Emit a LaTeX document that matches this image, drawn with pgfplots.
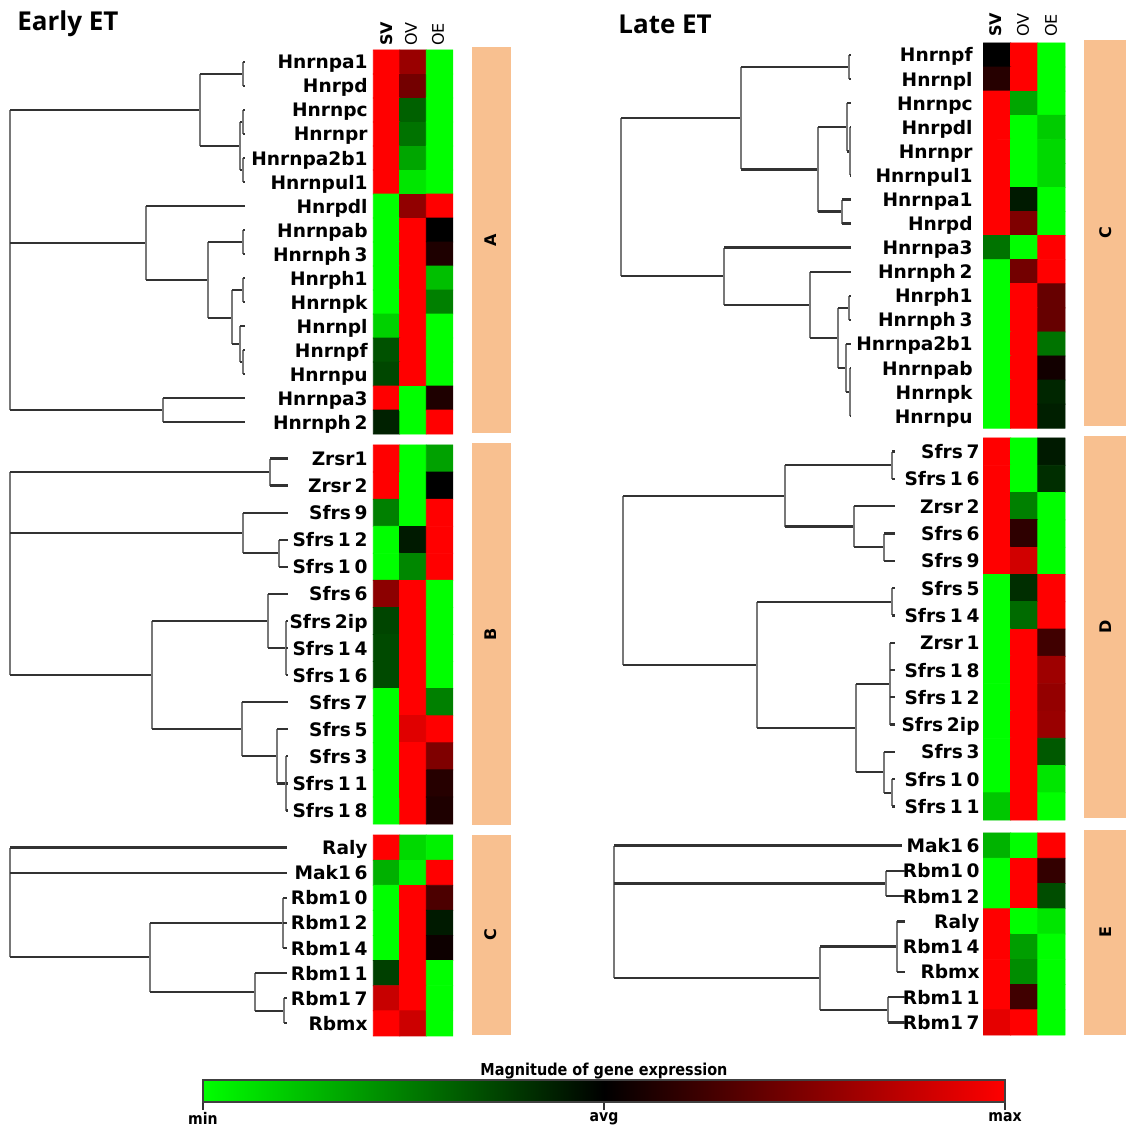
\documentclass[border=0pt]{standalone}
\usepackage{pgfplots}
\pgfplotsset{compat=1.18}
\usepackage{fontspec}
\setmainfont{DejaVu Sans}
\newfontfamily\dvc[FakeStretch=0.88]{DejaVu Sans}
\newfontfamily\osans{Open Sans}
\definecolor{peach}{RGB}{248,192,144}
\definecolor{hl}{RGB}{50,50,50}
\definecolor{vl}{RGB}{120,120,120}
\newcommand\labfont{\bfseries\fontsize{9.3}{10}\selectfont}
\newcommand\g{\kern0.2em}
\newcommand\hseg[3]{\addplot[hl,line width=1.15pt] coordinates {(#1,#3) (#2,#3)};}
\newcommand\vseg[3]{\addplot[vl,line width=0.55pt] coordinates {(#1,#2) (#1,#3)};}
\newcommand\lab[3]{\node[anchor=base east,inner sep=0pt,yshift=-3.5pt,font=\labfont] at (axis cs:#1,#2) {#3};}
\newcommand\grp[3]{\node[rotate=90,inner sep=0pt,font=\bfseries\fontsize{8}{9}\selectfont] at (axis cs:#1,#2) {#3};}
\begin{document}
\begin{tikzpicture}
\begin{axis}[
  x=0.5pt, y=0.5pt, xmin=0, xmax=1126, ymin=0, ymax=1129, y dir=reverse,
  hide axis, clip=false,
  colormap={rg}{rgb255=(0,255,0) rgb255=(0,0,0) rgb255=(255,0,0)},
  point meta min=-1, point meta max=1,
  colorbar horizontal,
  colorbar style={
    at={(0.18028,0.02391)}, anchor=south west,
    scale only axis, width=401pt, height=11pt,
    xtick={-1,0,1}, xticklabels={min,avg,max},
    xtick align=outside, major tick length=4pt,
    xtick pos=left, xticklabel pos=left,
    major tick style={draw=black!80, line width=0.9pt},
    axis line style={black!75, line width=0.8pt},
    xticklabel style={font=\dvc\bfseries\fontsize{8}{9}\selectfont, inner sep=0pt, yshift=-1pt},
    title={Magnitude of gene expression},
    title style={font=\dvc\bfseries\fontsize{8.2}{9}\selectfont, inner sep=0pt, at={(0.5,1)}, anchor=south, yshift=-5.5pt},
  },
]
\path (axis cs:0,0) rectangle (axis cs:1126,1129);
% ---------------- heatmaps: Early ET ----------------
\addplot[matrix plot*, mesh/cols=3, point meta=explicit] table[meta=c] {
x y c
386.5 62 1
413 62 0.6
439.5 62 -1
386.5 86 1
413 86 0.45
439.5 86 -1
386.5 110 1
413 110 -0.38
439.5 110 -1
386.5 134 1
413 134 -0.45
439.5 134 -1
386.5 158 1
413 158 -0.65
439.5 158 -1
386.5 182 1
413 182 -0.9
439.5 182 -1
386.5 206 -1
413 206 0.57
439.5 206 1
386.5 230 -1
413 230 1
439.5 230 0
386.5 254 -1
413 254 1
439.5 254 0.12
386.5 278 -1
413 278 1
439.5 278 -0.75
386.5 302 -1
413 302 1
439.5 302 -0.5
386.5 326 -0.82
413 326 1
439.5 326 -1
386.5 350 -0.32
413 350 1
439.5 350 -1
386.5 374 -0.28
413 374 1
439.5 374 -1
386.5 398 1
413 398 -1
439.5 398 0.12
386.5 422 -0.13
413 422 -1
439.5 422 1
};
\addplot[matrix plot*, mesh/cols=3, point meta=explicit] table[meta=c] {
x y c
386.5 458.5 1
413 458.5 -1
439.5 458.5 -0.63
386.5 485.6 1
413 485.6 -1
439.5 485.6 0
386.5 512.7 -0.5
413 512.7 -1
439.5 512.7 1
386.5 539.8 -1
413 539.8 -0.1
439.5 539.8 1
386.5 566.8 -1
413 566.8 -0.53
439.5 566.8 1
386.5 593.9 0.55
413 593.9 1
439.5 593.9 -1
386.5 621 -0.27
413 621 1
439.5 621 -1
386.5 648 -0.29
413 648 1
439.5 648 -1
386.5 675 -0.29
413 675 1
439.5 675 -1
386.5 702.2 -1
413 702.2 1
439.5 702.2 -0.5
386.5 729.3 -1
413 729.3 0.88
439.5 729.3 1
386.5 756.3 -1
413 756.3 1
439.5 756.3 0.5
386.5 783.4 -1
413 783.4 1
439.5 783.4 0.15
386.5 810.5 -1
413 810.5 1
439.5 810.5 0.12
};
\addplot[matrix plot*, mesh/cols=3, point meta=explicit] table[meta=c] {
x y c
386.5 847.6 1
413 847.6 -0.85
439.5 847.6 -0.95
386.5 872.7 -0.69
413 872.7 -0.95
439.5 872.7 1
386.5 897.8 -1
413 897.8 1
439.5 897.8 0.3
386.5 922.9 -1
413 922.9 1
439.5 922.9 -0.1
386.5 948 -1
413 948 1
439.5 948 0.05
386.5 973.1 -0.25
413 973.1 1
439.5 973.1 -1
386.5 998.2 0.78
413 998.2 1
439.5 998.2 -1
386.5 1023.3 1
413 1023.3 0.8
439.5 1023.3 -1
};
% ---------------- heatmaps: Late ET ----------------
\addplot[matrix plot*, mesh/cols=3, point meta=explicit] table[meta=c] {
x y c
997 55 0
1024.2 55 1
1051.4 55 -1
997 79.1 0.15
1024.2 79.1 1
1051.4 79.1 -1
997 103.2 1
1024.2 103.2 -0.65
1051.4 103.2 -1
997 127.3 1
1024.2 127.3 -1
1051.4 127.3 -0.8
997 151.4 1
1024.2 151.4 -1
1051.4 151.4 -0.85
997 175.4 1
1024.2 175.4 -1
1051.4 175.4 -0.85
997 199.5 1
1024.2 199.5 -0.1
1051.4 199.5 -1
997 223.6 1
1024.2 223.6 0.5
1051.4 223.6 -1
997 247.6 -0.45
1024.2 247.6 -1
1051.4 247.6 1
997 271.7 -1
1024.2 271.7 0.45
1051.4 271.7 1
997 295.8 -1
1024.2 295.8 1
1051.4 295.8 0.4
997 319.9 -1
1024.2 319.9 1
1051.4 319.9 0.4
997 343.9 -1
1024.2 343.9 1
1051.4 343.9 -0.45
997 368 -1
1024.2 368 1
1051.4 368 0.07
997 392.1 -1
1024.2 392.1 1
1051.4 392.1 -0.15
997 416.1 -1
1024.2 416.1 1
1051.4 416.1 -0.12
};
\addplot[matrix plot*, mesh/cols=3, point meta=explicit] table[meta=c] {
x y c
997 451.6 1
1024.2 451.6 -1
1051.4 451.6 -0.1
997 478.9 1
1024.2 478.9 -1
1051.4 478.9 -0.18
997 506.2 1
1024.2 506.2 -0.5
1051.4 506.2 -1
997 533.5 1
1024.2 533.5 0.18
1051.4 533.5 -1
997 560.8 1
1024.2 560.8 0.82
1051.4 560.8 -1
997 588.1 -1
1024.2 588.1 -0.18
1051.4 588.1 1
997 615.4 -1
1024.2 615.4 -0.42
1051.4 615.4 1
997 642.7 -1
1024.2 642.7 1
1051.4 642.7 0.25
997 670 -1
1024.2 670 1
1051.4 670 0.62
997 697.3 -1
1024.2 697.3 1
1051.4 697.3 0.58
997 724.6 -1
1024.2 724.6 1
1051.4 724.6 0.6
997 751.9 -1
1024.2 751.9 1
1051.4 751.9 -0.35
997 779.1 -1
1024.2 779.1 1
1051.4 779.1 -0.9
997 806.4 -0.78
1024.2 806.4 1
1051.4 806.4 -1
};
\addplot[matrix plot*, mesh/cols=3, point meta=explicit] table[meta=c] {
x y c
997 845.6 -0.7
1024.2 845.6 -1
1051.4 845.6 1
997 870.9 -1
1024.2 870.9 1
1051.4 870.9 0.2
997 896.1 -1
1024.2 896.1 1
1051.4 896.1 -0.3
997 921.4 1
1024.2 921.4 -1
1051.4 921.4 -0.9
997 946.6 1
1024.2 946.6 -0.62
1051.4 946.6 -1
997 971.9 1
1024.2 971.9 -0.55
1051.4 971.9 -1
997 997.1 1
1024.2 997.1 0.25
1051.4 997.1 -1
997 1022.4 0.9
1024.2 1022.4 1
1051.4 1022.4 -1
};
% ---------------- cluster bars ----------------
\fill[peach] (axis cs:472,47) rectangle (axis cs:511,433);
\fill[peach] (axis cs:472,443) rectangle (axis cs:511,825);
\fill[peach] (axis cs:472,835) rectangle (axis cs:511,1035);
\fill[peach] (axis cs:1084,40) rectangle (axis cs:1126,426);
\fill[peach] (axis cs:1084,436) rectangle (axis cs:1126,818);
\fill[peach] (axis cs:1084,830) rectangle (axis cs:1126,1035);
\grp{491}{240}{A}
\grp{491}{634}{B}
\grp{491}{935}{C}
\grp{1106}{233}{C}
\grp{1106}{627}{D}
\grp{1106}{932}{E}
% colorbar tick marks
\draw[black!80, line width=0.9pt] (axis cs:203.5,1101) -- (axis cs:203.5,1110);
\draw[black!80, line width=0.9pt] (axis cs:604,1101) -- (axis cs:604,1110);
\draw[black!80, line width=0.9pt] (axis cs:1004.5,1101) -- (axis cs:1004.5,1110);
% ---------------- titles and headers ----------------
\node[anchor=west,inner sep=0pt,font=\osans\bfseries\fontsize{13}{14}\selectfont] at (axis cs:17,24) {Early ET};
\node[anchor=west,inner sep=0pt,font=\osans\bfseries\fontsize{13}{14}\selectfont] at (axis cs:618,24) {Late ET};
\node[rotate=90,anchor=west,inner sep=0pt,font=\bfseries\fontsize{8}{9}\selectfont] at (axis cs:386.5,46) {SV};
\node[rotate=90,anchor=west,inner sep=0pt,font=\fontsize{8}{9}\selectfont] at (axis cs:411,46) {OV};
\node[rotate=90,anchor=west,inner sep=0pt,font=\fontsize{8}{9}\selectfont] at (axis cs:438,46) {OE};
\node[rotate=90,anchor=west,inner sep=0pt,font=\bfseries\fontsize{8}{9}\selectfont] at (axis cs:996,37) {SV};
\node[rotate=90,anchor=west,inner sep=0pt,font=\fontsize{8}{9}\selectfont] at (axis cs:1023,37) {OV};
\node[rotate=90,anchor=west,inner sep=0pt,font=\fontsize{8}{9}\selectfont] at (axis cs:1051,37) {OE};
% ---------------- row labels ----------------
\lab{368}{62}{Hnrnpa1}\lab{368}{86}{Hnrpd}\lab{368}{110}{Hnrnpc}\lab{368}{134}{Hnrnpr}
\lab{368}{158}{Hnrnpa2b1}\lab{368}{182}{Hnrnpul1}\lab{368}{206}{Hnrpdl}\lab{368}{230}{Hnrnpab}
\lab{368}{254}{Hnrnph\g 3}\lab{368}{278}{Hnrph1}\lab{368}{302}{Hnrnpk}\lab{368}{326}{Hnrnpl}
\lab{368}{350}{Hnrnpf}\lab{368}{374}{Hnrnpu}\lab{368}{398}{Hnrnpa3}\lab{368}{422}{Hnrnph\g 2}
\lab{368}{458.5}{Zrsr1}\lab{368}{485.6}{Zrsr\g 2}\lab{368}{512.7}{Sfrs\g 9}\lab{368}{539.8}{Sfrs\g 1\g 2}
\lab{368}{566.8}{Sfrs\g 1\g 0}\lab{368}{593.9}{Sfrs\g 6}\lab{368}{621}{Sfrs\g 2ip}\lab{368}{648}{Sfrs\g 1\g 4}
\lab{368}{675}{Sfrs\g 1\g 6}\lab{368}{702.2}{Sfrs\g 7}\lab{368}{729.3}{Sfrs\g 5}\lab{368}{756.3}{Sfrs\g 3}
\lab{368}{783.4}{Sfrs\g 1\g 1}\lab{368}{810.5}{Sfrs\g 1\g 8}
\lab{368}{847.6}{Raly}\lab{368}{872.7}{Mak1\g 6}\lab{368}{897.8}{Rbm1\g 0}\lab{368}{922.9}{Rbm1\g 2}
\lab{368}{948}{Rbm1\g 4}\lab{368}{973.1}{Rbm1\g 1}\lab{368}{998.2}{Rbm1\g 7}\lab{368}{1023.3}{Rbmx}
\lab{973}{55}{Hnrnpf}\lab{973}{79.1}{Hnrnpl}\lab{973}{103.2}{Hnrnpc}\lab{973}{127.3}{Hnrpdl}
\lab{973}{151.4}{Hnrnpr}\lab{973}{175.4}{Hnrnpul1}\lab{973}{199.5}{Hnrnpa1}\lab{973}{223.6}{Hnrpd}
\lab{973}{247.6}{Hnrnpa3}\lab{973}{271.7}{Hnrnph\g 2}\lab{973}{295.8}{Hnrph1}\lab{973}{319.9}{Hnrnph\g 3}
\lab{973}{343.9}{Hnrnpa2b1}\lab{973}{368}{Hnrnpab}\lab{973}{392.1}{Hnrnpk}\lab{973}{416.1}{Hnrnpu}
\lab{980}{451.6}{Sfrs\g 7}\lab{980}{478.9}{Sfrs\g 1\g 6}\lab{980}{506.2}{Zrsr\g 2}\lab{980}{533.5}{Sfrs\g 6}
\lab{980}{560.8}{Sfrs\g 9}\lab{980}{588.1}{Sfrs\g 5}\lab{980}{615.4}{Sfrs\g 1\g 4}\lab{980}{642.7}{Zrsr\g 1}
\lab{980}{670}{Sfrs\g 1\g 8}\lab{980}{697.3}{Sfrs\g 1\g 2}\lab{980}{724.6}{Sfrs\g 2ip}\lab{980}{751.9}{Sfrs\g 3}
\lab{980}{779.1}{Sfrs\g 1\g 0}\lab{980}{806.4}{Sfrs\g 1\g 1}
\lab{980}{845.6}{Mak1\g 6}\lab{980}{870.9}{Rbm1\g 0}\lab{980}{896.1}{Rbm1\g 2}\lab{980}{921.4}{Raly}
\lab{980}{946.6}{Rbm1\g 4}\lab{980}{971.9}{Rbmx}\lab{980}{997.1}{Rbm1\g 1}\lab{980}{1022.4}{Rbm1\g 7}
% ---------------- dendrograms: Early ET ----------------
\vseg{10}{110}{410}\hseg{10}{200}{110}\hseg{10}{146}{243}\hseg{10}{163}{410}
\vseg{200}{74}{146}\hseg{200}{243}{74}\hseg{200}{240}{146}
\vseg{243}{62}{86}\hseg{243}{245}{62}\hseg{243}{245}{86}
\vseg{240}{122}{170}\hseg{240}{243}{122}\hseg{240}{243}{170}
\vseg{243}{110}{134}\hseg{243}{245}{110}\hseg{243}{245}{134}
\vseg{243}{158}{182}\hseg{243}{245}{158}\hseg{243}{245}{182}
\vseg{146}{206}{280}\hseg{146}{245}{206}\hseg{146}{208}{280}
\vseg{208}{242}{318}\hseg{208}{243}{242}
\vseg{243}{230}{254}\hseg{243}{245}{230}\hseg{243}{245}{254}
\hseg{208}{232}{318}\vseg{232}{290}{344}\hseg{232}{243}{290}
\vseg{243}{278}{302}\hseg{243}{245}{278}\hseg{243}{245}{302}
\hseg{232}{240}{344}\vseg{240}{326}{362}\hseg{240}{245}{326}\hseg{240}{243}{362}
\vseg{243}{350}{374}\hseg{243}{245}{350}\hseg{243}{245}{374}
\vseg{163}{398}{422}\hseg{163}{245}{398}\hseg{163}{245}{422}
%
\vseg{10}{472}{675}\hseg{10}{270}{472}\hseg{10}{243}{533}\hseg{10}{152}{675}
\vseg{270}{458.5}{485.6}\hseg{270}{288}{458.5}\hseg{270}{288}{485.6}
\vseg{243}{512.7}{553.3}\hseg{243}{288}{512.7}\hseg{243}{279}{553.3}
\vseg{279}{539.8}{566.8}\hseg{279}{288}{539.8}\hseg{279}{288}{566.8}
\vseg{152}{621}{729}\hseg{152}{268}{621}\hseg{152}{242}{729}
\vseg{268}{593.9}{648}\hseg{268}{288}{593.9}\hseg{268}{286}{648}
\vseg{286}{621}{675}\hseg{286}{288}{621}\hseg{286}{288}{648}\hseg{286}{288}{675}
\vseg{242}{702.2}{756.3}\hseg{242}{288}{702.2}\hseg{242}{277}{756.3}
\vseg{277}{729.3}{783.4}\hseg{277}{288}{729.3}\hseg{277}{286}{783.4}
\vseg{286}{756.3}{810.5}\hseg{286}{288}{756.3}\hseg{286}{288}{783.4}\hseg{286}{288}{810.5}
%
\vseg{10}{847.6}{957}\hseg{10}{287}{847.6}\hseg{10}{287}{872.7}\hseg{10}{150}{957}
\vseg{150}{923}{992}\hseg{150}{283}{923}\hseg{150}{255}{992}
\vseg{283}{897.8}{948}\hseg{283}{287}{897.8}\hseg{283}{287}{922.9}\hseg{283}{287}{948}
\vseg{255}{973.1}{1010.8}\hseg{255}{287}{973.1}\hseg{255}{284}{1010.8}
\vseg{284}{998.2}{1023.3}\hseg{284}{287}{998.2}\hseg{284}{287}{1023.3}
% ---------------- dendrograms: Late ET ----------------
\vseg{621}{118}{276}\hseg{621}{741}{118}\hseg{621}{724}{276}
\vseg{741}{67}{169.4}\hseg{741}{849}{67}\hseg{741}{818}{169.4}
\vseg{849}{55}{79.1}\hseg{849}{851}{55}\hseg{849}{851}{79.1}
\vseg{818}{127.3}{211.6}\hseg{818}{847}{127.3}\hseg{818}{842}{211.6}
\vseg{847}{103.2}{151.4}\hseg{847}{851}{103.2}\hseg{847}{850}{151.4}
\vseg{850}{127.3}{175.4}\hseg{850}{851}{127.3}\hseg{850}{851}{175.4}
\vseg{842}{199.5}{223.6}\hseg{842}{851}{199.5}\hseg{842}{851}{223.6}
\vseg{724}{247.6}{305}\hseg{724}{851}{247.6}\hseg{724}{810}{305}
\vseg{810}{271.7}{338}\hseg{810}{851}{271.7}\hseg{810}{838}{338}
\vseg{838}{308}{368}\hseg{838}{849}{308}\hseg{838}{846}{368}
\vseg{849}{295.8}{319.9}\hseg{849}{851}{295.8}\hseg{849}{851}{319.9}
\vseg{846}{343.9}{392.1}\hseg{846}{851}{343.9}\hseg{846}{850}{392.1}
\vseg{850}{368}{416.1}\hseg{850}{851}{368}\hseg{850}{851}{416.1}
%
\vseg{623}{496}{665}\hseg{623}{785}{496}\hseg{623}{757}{665}
\vseg{785}{465.3}{526.6}\hseg{785}{892}{465.3}\hseg{785}{854}{526.6}
\vseg{892}{451.6}{478.9}\hseg{892}{895}{451.6}\hseg{892}{895}{478.9}
\vseg{854}{506.2}{547}\hseg{854}{895}{506.2}\hseg{854}{884}{547}
\vseg{884}{533.5}{560.8}\hseg{884}{895}{533.5}\hseg{884}{895}{560.8}
\vseg{757}{601.8}{728}\hseg{757}{892}{601.8}\hseg{757}{856}{728}
\vseg{892}{588.1}{615.4}\hseg{892}{895}{588.1}\hseg{892}{895}{615.4}
\vseg{856}{683.7}{772.3}\hseg{856}{890}{683.7}\hseg{856}{884}{772.3}
\vseg{890}{642.7}{724.6}\hseg{890}{895}{642.7}\hseg{890}{895}{670}\hseg{890}{895}{697.3}\hseg{890}{895}{724.6}
\vseg{884}{751.9}{792.8}\hseg{884}{895}{751.9}\hseg{884}{892}{792.8}
\vseg{892}{779.1}{806.4}\hseg{892}{895}{779.1}\hseg{892}{895}{806.4}
%
\vseg{614}{845.6}{978}\hseg{614}{902}{845.6}\hseg{614}{886}{883.5}\hseg{614}{820}{978}
\vseg{886}{870.9}{896.1}\hseg{886}{905}{870.9}\hseg{886}{905}{896.1}
\vseg{820}{946.6}{1009.8}\hseg{820}{897}{946.6}\hseg{820}{888}{1009.8}
\vseg{897}{921.4}{971.9}\hseg{897}{905}{921.4}\hseg{897}{905}{971.9}
\vseg{888}{997.1}{1022.4}\hseg{888}{905}{997.1}\hseg{888}{905}{1022.4}
\end{axis}
\end{tikzpicture}
\end{document}
